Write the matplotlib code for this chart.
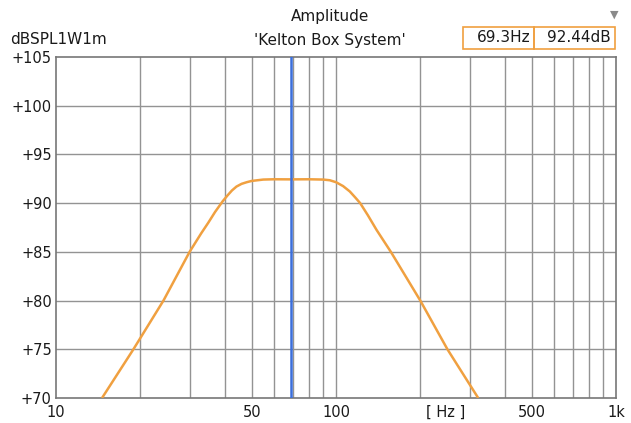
import numpy as np
import matplotlib
matplotlib.use("Agg")
from matplotlib import pyplot
from matplotlib.patches import Rectangle

# values
freq_hz = [14.6, 18.9, 24.2, 30, 33, 35, 37, 39.4, 41, 42.5, 44.1, 46, 48, 50, 55, 60, 69.3, 80, 90, 95, 100,
           106, 112, 117, 122, 130, 139.6, 157, 200, 250, 322]
spl_db = [70, 75, 80, 85, 86.9, 88.0, 89.1, 90.2, 90.8, 91.3, 91.7, 91.98, 92.15, 92.28, 92.42, 92.45, 92.44, 92.45, 92.42, 92.35, 92.15,
          91.75, 91.2, 90.6, 90, 88.75, 87.25, 85, 80, 75, 70]
cursor_hz = 69.3
cursor_db = 92.44

grid_x = [20, 30, 40, 50, 60, 70, 80, 90, 100, 200, 300, 400, 500, 600, 700, 800, 900]
xtick_pos = [10, 50, 100, 246, 500, 1000]
xtick_labels = ["10", "50", "100", "[ Hz ]", "500", "1k"]
yticks = [70, 75, 80, 85, 90, 95, 100, 105]

orange = "#f0a040"
blue = "#3b6fdc"
grid_color = "#939393"
text_color = "#1a1a1a"

pyplot.rcParams["font.family"] = ["DejaVu Sans"]
pyplot.rcParams["font.size"] = 11

fig = pyplot.figure(figsize=(6.31, 4.23), dpi=100)
ax = fig.add_axes([56/631, 1-398/423, 560/631, 341/423])

ax.set_xscale("log")
ax.set_xlim(10, 1000)
ax.set_ylim(70, 105)

for x in grid_x:
    ax.axvline(x, color=grid_color, lw=1, zorder=1)
for y in yticks[1:-1]:
    ax.axhline(y, color=grid_color, lw=1, zorder=1)

ax.plot(freq_hz, spl_db, color=orange, lw=1.8, zorder=3, solid_capstyle="butt", solid_joinstyle="round")
ax.axvline(cursor_hz, color=blue, lw=1.8, zorder=4)

ax.set_xticks(xtick_pos)
ax.set_xticklabels(xtick_labels)
ax.xaxis.set_minor_locator(matplotlib.ticker.NullLocator())
ax.set_yticks(yticks)
ax.set_yticklabels([f"+{v}" for v in yticks])
ax.tick_params(axis="both", length=0, labelsize=10.5, colors=text_color)
ax.tick_params(axis="x", pad=5)
ax.tick_params(axis="y", pad=3)
for s in ax.spines.values():
    s.set_color("#777777")
    s.set_linewidth(1.2)

fig.text(330/631, 1-16/423, "Amplitude", ha="center", va="center", fontsize=11, color=text_color)
fig.text(330/631, 1-40/423, "'Kelton Box System'", ha="center", va="center", fontsize=11, color=text_color)
fig.text(10/631, 1-40/423, "dBSPL1W1m", ha="left", va="center", fontsize=11, color=text_color)
fig.text(614/631, 1-15/423, "\u25bc", ha="center", va="center", fontsize=8, color="#8a8a8a")

# readout boxes
for x0, x1, label in [(463, 534, f"{cursor_hz}Hz"), (534, 615, f"{cursor_db}dB")]:
    fig.patches.append(Rectangle((x0/631, 1-49/423), (x1-x0)/631, 22/423, transform=fig.transFigure,
                                 fill=False, edgecolor=orange, lw=1.2))
    fig.text((x1-4)/631, 1-38/423, label, ha="right", va="center", fontsize=11, color=text_color)

pyplot.savefig("out.png", dpi=100)
